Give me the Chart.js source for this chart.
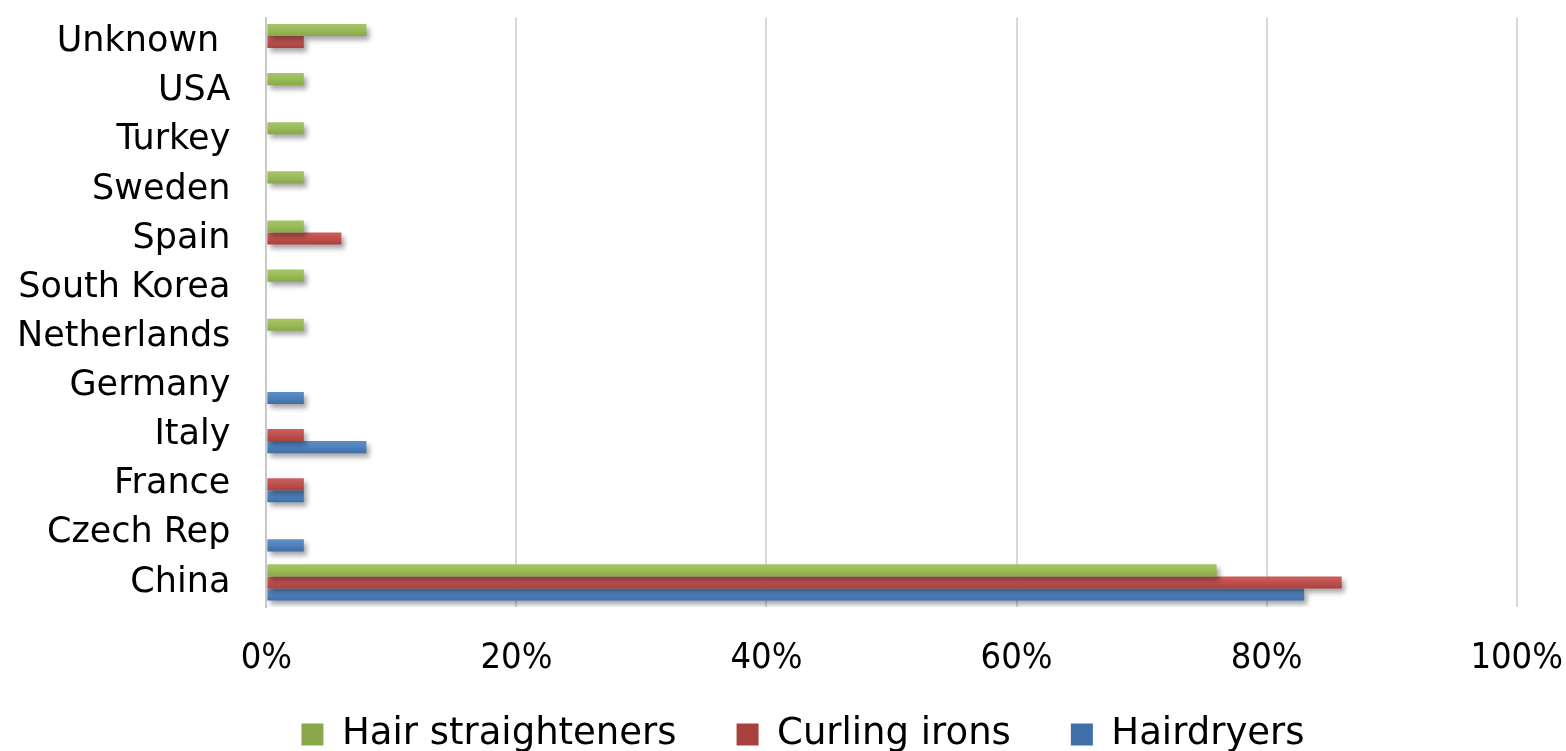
<!DOCTYPE html>
<html><head><meta charset="utf-8">
<script src="https://cdn.jsdelivr.net/npm/chart.js@4.4.1/dist/chart.umd.min.js"></script>
<style>html,body{margin:0;padding:0;background:#fff}canvas{display:block}</style>
</head><body>
<canvas id="c" width="1566" height="751"></canvas>
<script>
const categories = ["Unknown ","USA","Turkey","Sweden","Spain","South Korea","Netherlands","Germany","Italy","France","Czech Rep","China"];
const hairStraighteners = [8,3,3,3,3,3,3,0,0,0,0,76];
const curlingIrons      = [3,0,0,0,6,0,0,0,3,3,0,86];
const hairdryers        = [0,0,0,0,0,0,0,3,8,3,3,83];
const seriesNames = ["Hair straighteners","Curling irons","Hairdryers"];
const xTicks = [0,20,40,60,80,100];

const LABEL_FONT = "'DejaVu Sans', sans-serif";
const TICK_FONT = "'DejaVu Sans Condensed', 'DejaVu Sans', sans-serif";
const CAT_PCT = 0.74;

const palette = [
  ['#a6c568','#9BBB59','#88a84a'],
  ['#cc605d','#C0504D','#a8403d'],
  ['#5d8fcb','#4F81BD','#3f6ea8']
];

function barFill(dsIndex){
  return function(ctx){
    const chart = ctx.chart;
    const pal = palette[dsIndex];
    const ys = chart.scales && chart.scales.y;
    if (!chart.chartArea || !ys || ctx.type !== 'data') return pal[1];
    const center = ys.getPixelForValue(ctx.dataIndex);
    const band = ys.height / categories.length;
    const group = band * CAT_PCT;
    const th = group / 3;
    const top = center - group/2 + th*dsIndex;
    const g = chart.ctx.createLinearGradient(0, top, 0, top + th);
    g.addColorStop(0, pal[0]);
    g.addColorStop(0.5, pal[1]);
    g.addColorStop(1, pal[2]);
    return g;
  };
}

const shadowPlugin = {
  id: 'shadow',
  afterLayout(chart){ const x = chart.scales.x; if (x) x.bottom = chart.height; },
  beforeDatasetsDraw(chart){ const c=chart.ctx; c.save(); c.shadowColor='rgba(0,0,0,0.35)'; c.shadowBlur=5; c.shadowOffsetX=3; c.shadowOffsetY=4; },
  afterDatasetsDraw(chart){ chart.ctx.restore(); }
};

new Chart(document.getElementById('c'), {
  type: 'bar',
  data: {
    labels: categories,
    datasets: [
      {label: seriesNames[0], data: hairStraighteners, backgroundColor: barFill(0)},
      {label: seriesNames[1], data: curlingIrons, backgroundColor: barFill(1)},
      {label: seriesNames[2], data: hairdryers, backgroundColor: barFill(2)}
    ]
  },
  plugins: [shadowPlugin],
  options: {
    indexAxis: 'y',
    responsive: false,
    animation: false,
    categoryPercentage: CAT_PCT,
    barPercentage: 1.0,
    layout: { padding: { top: 0, right: -23, left: 17, bottom: -12 } },
    scales: {
      x: {
        min: 0, max: 100,
        afterBuildTicks(axis){ axis.ticks = xTicks.map(v=>({value:v})); },
        afterFit(scale){ scale.height = 49; },
        ticks: { callback: v => v + '%', color:'#000', font:{family:TICK_FONT, size:36, lineHeight:1}, padding: 3 },
        grid: { color:'#d9d9d9', lineWidth:2, drawTicks:true, tickLength:31, tickColor:'rgba(0,0,0,0)' },
        border: { display:false }
      },
      y: {
        ticks: { color:'#000', font:{family:LABEL_FONT, size:35, lineHeight:1}, padding: 0 },
        grid: { display:false, drawTicks:true, tickLength:36, tickColor:'rgba(0,0,0,0)' },
        border: { display:true, color:'#c8c8c8', width:2 }
      }
    },
    plugins: {
      legend: {
        position:'bottom',
        labels: { color:'#000', font:{family:LABEL_FONT, size:37}, boxWidth:22, boxHeight:22, padding: 60 }
      },
      tooltip: { enabled:false }
    }
  }
});
</script>
</body></html>
